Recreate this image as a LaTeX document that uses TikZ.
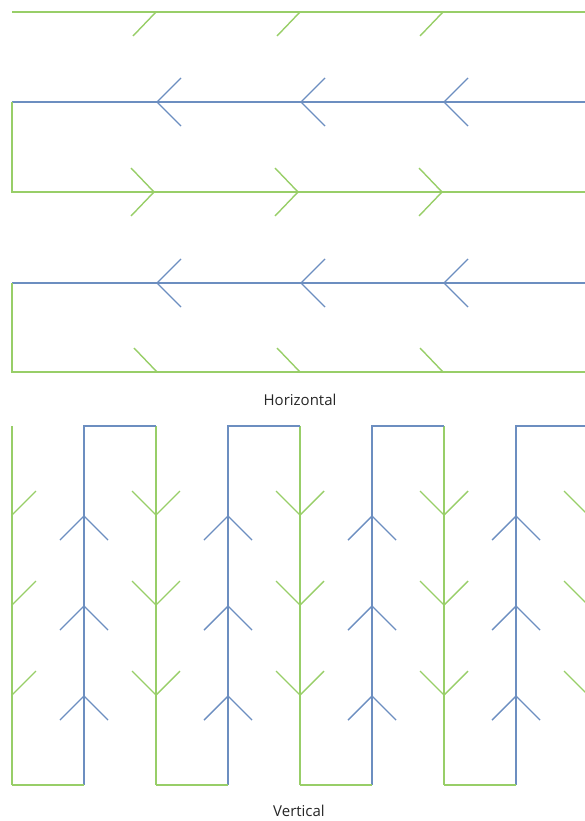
\documentclass[tikz,border=0pt]{standalone}
\usepackage{fontspec}
\setmainfont{Open Sans}

\definecolor{pathgreen}{RGB}{152,206,104}
\definecolor{pathblue}{RGB}{108,142,192}

\begin{document}
\begin{tikzpicture}[
    x=1pt, y=-1pt,
    every node/.style={font=\fontsize{15}{18}\selectfont, text=black!85},
    gline/.style={draw=pathgreen, line width=1.4pt},
    bline/.style={draw=pathblue, line width=1.4pt},
]

% Frame (same size as the reference)
\useasboundingbox (0,0) rectangle (585,821);
\clip (0,0) rectangle (585,821);

% Horizontal rows (y positions)
\def\yA{12}
\def\yB{102}
\def\yC{192}
\def\yD{283}
\def\yE{372}

% --- Horizontal: top green row (half heads) ---
\draw[gline] (12,\yA) -- (600,\yA);
\foreach \x in {156,300,443}
    \draw[gline] (\x-23,\yA+24) -- (\x,\yA);

% --- Horizontal: blue row, heads to the left ---
\draw[bline] (12,\yB) -- (600,\yB);
\foreach \x in {157,301,444}
    \draw[bline] (\x+24,\yB-24) -- (\x,\yB) -- (\x+24,\yB+24);

% --- Horizontal: green row, heads to the right ---
\draw[gline] (12,\yB) -- (12,\yC) -- (600,\yC);
\foreach \x in {154,298,442}
    \draw[gline] (\x-23,\yC-24) -- (\x,\yC) -- (\x-23,\yC+24);

% --- Horizontal: second blue row ---
\draw[bline] (12,\yD) -- (600,\yD);
\foreach \x in {157,301,444}
    \draw[bline] (\x+24,\yD-24) -- (\x,\yD) -- (\x+24,\yD+24);

% --- Horizontal: bottom green row (half heads) ---
\draw[gline] (12,\yD) -- (12,\yE) -- (600,\yE);
\foreach \x in {157,300,443}
    \draw[gline] (\x-23,\yE-24) -- (\x,\yE);

\node (hlabel) at (300,400) {Horizontal};

% Vertical columns
\def\ytop{426}
\def\ybot{785}
\def\colstep{144}

% --- Vertical: green columns, heads down ---
\foreach \k in {0,...,4} {
    \pgfmathsetmacro{\gx}{12+\colstep*\k}
    \draw[gline] (\gx,\ytop) -- (\gx,\ybot);
    \foreach \y in {515,605,695} {
        \ifnum\k=0
            \draw[gline] (\gx,\y) -- (\gx+24,\y-24);
        \else
            \draw[gline] (\gx-24,\y-24) -- (\gx,\y) -- (\gx+24,\y-24);
        \fi
    }
}

% --- Vertical: blue columns, heads up ---
\foreach \k in {0,...,3} {
    \pgfmathsetmacro{\gx}{12+\colstep*\k}
    \pgfmathsetmacro{\bx}{84+\colstep*\k}
    \draw[bline] (\bx,\ybot) -- (\bx,\ytop) -- (\bx+72,\ytop);
    \draw[gline] (\gx,\ybot) -- (\bx,\ybot);
    \foreach \y in {516,606,696}
        \draw[bline] (\bx-24,\y+24) -- (\bx,\y) -- (\bx+24,\y+24);
}

\node (vlabel) at (299,811) {Vertical};

\end{tikzpicture}
\end{document}
